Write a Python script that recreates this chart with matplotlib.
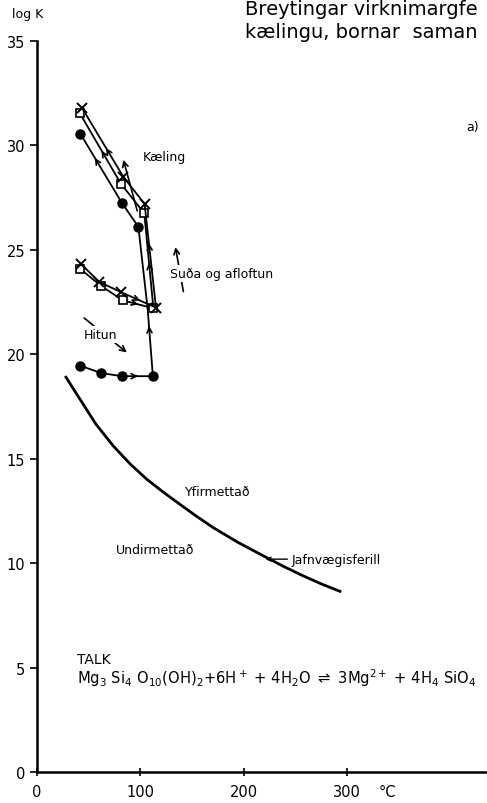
import matplotlib.pyplot as plt
import numpy as np

plt.rcParams['font.family'] = ['DejaVu Sans']

# filled circles: heating, boiling/degassing, cooling (path order)
dot_T = [42, 62, 82, 112, 107, 98, 82, 42]
dot_K = [19.45, 19.1, 18.95, 18.95, 22.15, 26.1, 27.25, 30.55]
dot_marked = [0, 1, 2, 3, 5, 6, 7]

# open squares
sq_T = [41.5, 62, 83, 112.5, 103.7, 81, 41.5]
sq_K = [24.1, 23.27, 22.58, 22.2, 26.75, 28.17, 31.53]

# crosses
x_T = [42.2, 60.2, 81, 115, 104, 83.4, 43.8]
x_K = [24.34, 23.46, 22.98, 22.23, 27.2, 28.5, 31.77]

# equilibrium curve (Jafnvægisferill)
eq_T = [28, 41.5, 57, 73.7, 90, 106, 122, 138, 154, 170.3, 194, 218.7, 238, 257.3, 275, 292.8]
eq_K = [18.9, 17.85, 16.65, 15.61, 14.75, 14.02, 13.4, 12.82, 12.25, 11.7, 11.0, 10.35, 9.85, 9.39, 9.0, 8.65]

# arrowheads on the paths: (segment, fraction along segment)
dot_arrows = [(2, 0.52), (3, 0.75), (6, 0.65)]
sq_arrows = [(2, 0.5), (3, 0.48), (5, 0.47)]
x_arrows = [(2, 0.55), (3, 0.62), (5, 0.42)]


def arrowheads(ax, T, K, arrows):
    for seg, f in arrows:
        x0, y0 = T[seg], K[seg]
        x1, y1 = T[seg + 1], K[seg + 1]
        xa, ya = x0 + (x1 - x0) * f, y0 + (y1 - y0) * f
        xb, yb = x0 + (x1 - x0) * (f - 0.05), y0 + (y1 - y0) * (f - 0.05)
        ax.annotate('', xy=(xa, ya), xytext=(xb, yb),
                    arrowprops=dict(arrowstyle='->', lw=1.2, color='black',
                                    mutation_scale=9, shrinkA=0, shrinkB=0))


fig = plt.figure(figsize=(4.87, 8.04), dpi=100)
ax = fig.add_axes([0.076, 0.0386, 0.924, 0.9092])

ax.plot(eq_T, eq_K, color='black', lw=2)

ax.plot(dot_T, dot_K, color='black', lw=1.3)
ax.plot(np.array(dot_T)[dot_marked], np.array(dot_K)[dot_marked], 'o',
        color='black', ms=6.5)
ax.plot(sq_T, sq_K, color='black', lw=1.3)
ax.plot(sq_T, sq_K, 's', mfc='white', mec='black', mew=1.2, ms=6)
ax.plot(x_T, x_K, color='black', lw=1.3)
ax.plot(x_T, x_K, 'x', color='black', mew=1.4, ms=6.5)

arrowheads(ax, dot_T, dot_K, dot_arrows)
arrowheads(ax, sq_T, sq_K, sq_arrows)
arrowheads(ax, x_T, x_K, x_arrows)

# free arrows and labels
ax.annotate('', xy=(82.8, 29.44), xytext=(97.6, 26.74),
            arrowprops=dict(arrowstyle='->', lw=1.2, mutation_scale=10))
ax.text(102.4, 29.47, 'Kæling', fontsize=9, va='center')

ax.annotate('', xy=(133.3, 25.26), xytext=(142, 22.87),
            arrowprops=dict(arrowstyle='->', lw=1.2, mutation_scale=10))
ax.text(128.5, 23.88, 'Suða og afloftun', fontsize=9, va='center',
        bbox=dict(facecolor='white', edgecolor='none', pad=1.5))

ax.annotate('', xy=(88.9, 20.0), xytext=(43.5, 21.82),
            arrowprops=dict(arrowstyle='->', lw=1.2, mutation_scale=10))
ax.text(61, 20.96, 'Hitun', fontsize=9, ha='center', va='center',
        bbox=dict(facecolor='white', edgecolor='none', pad=1.5))

ax.text(143, 13.44, 'Yfirmettað', fontsize=9, va='center')
ax.text(76.3, 10.67, 'Undirmettað', fontsize=9, va='center')
ax.annotate('', xy=(220.9, 10.19), xytext=(242, 10.19),
            arrowprops=dict(arrowstyle='->', lw=1, mutation_scale=7,
                            shrinkA=0, shrinkB=0))
ax.text(246, 10.19, 'Jafnvægisferill', fontsize=9, va='center')

ax.text(415, 30.9, 'a)', fontsize=9, va='center')
ax.text(38.6, 5.4, 'TALK', fontsize=10, va='center')
ax.text(38.6, 4.55,
        r'Mg$_3$ Si$_4$ O$_{10}$(OH)$_2$+6H$^+$ + 4H$_2$O $\rightleftharpoons$ '
        r'3Mg$^{2+}$ + 4H$_4$ SiO$_4$', fontsize=10.6, va='center')

ax.set_xlim(0, 435)
ax.set_ylim(0, 35)
ax.set_xticks([0, 100, 200, 300])
ax.set_yticks([0, 5, 10, 15, 20, 25, 30, 35])
ax.tick_params(axis='y', direction='out', length=5, width=1.2, labelsize=10.5)
ax.tick_params(axis='x', direction='inout', length=6, width=1.2, labelsize=10.5,
               pad=6)
ax.spines['top'].set_visible(False)
ax.spines['right'].set_visible(False)
ax.spines['left'].set_linewidth(1.8)
ax.spines['bottom'].set_linewidth(1.8)
ax.text(330, -0.95, '°C', fontsize=10.5, va='center')

fig.text(0.025, 0.9776, 'log K', fontsize=9)
fig.text(0.503, 0.9813, 'Breytingar virknimargfe', fontsize=14)
fig.text(0.503, 0.9527, 'kælingu, bornar  saman', fontsize=14)

fig.savefig('out.png', dpi=100)
